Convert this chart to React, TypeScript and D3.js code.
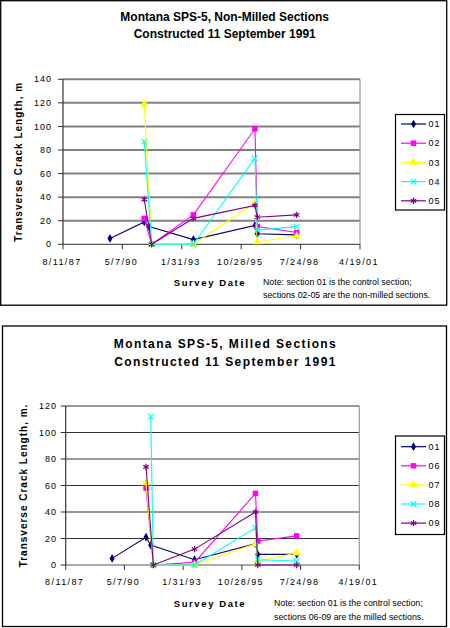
import React from "react";
import * as d3 from "d3";

// survey dates shared by every section (null = section not surveyed that day)
const surveyDates = [
  "1989-10-10", "1991-05-10", "1991-07-29", "1991-09-12",
  "1993-08-14", "1996-06-16", "1996-07-25", "1998-05-19",
];

// non-milled sections
const nonMilledIds = ["01", "02", "03", "04", "05"];
const nm01 = [5, 19, 15, null, 4, 16, 9, 8];
const nm02 = [null, 22, null, 0, 25, 98, 15, 10];
const nm03 = [null, 119, null, 0, 0, 35, 2, 7];
const nm04 = [null, 87, null, 0, 0, 73, 12, 15];
const nm05 = [null, 38, null, 0, 22, 33, 23, 25];

// milled sections
const milledIds = ["01", "06", "07", "08", "09"];
const m01 = [5, 21, 15, null, 4, 16, 8, 8];
const m06 = [null, 58, null, 0, 2, 54, 18, 22];
const m07 = [null, 62, null, 0, 0, 16, 3, 9];
const m08 = [null, null, 112, 0, 0, 28, 4, 3];
const m09 = [null, 74, null, 0, 12, 40, 0, 0];

const colors = ["#000080", "#ff00ff", "#ffff00", "#00ffff", "#800080"];
const symbols = [d3.symbolDiamond, d3.symbolSquare, d3.symbolTriangle, d3.symbolTimes, d3.symbolAsterisk];
const symbolSizes = [22, 30, 30, 22, 28];

const parse = d3.timeParse("%Y-%m-%d");
const axisStart = parse("1987-08-11")!;
const axisEnd = parse("2001-04-19")!;
const xTicks = d3.range(6).map((i) => d3.timeDay.offset(axisStart, i * 1000));
const fmtDate = (d: Date) => `${d.getMonth() + 1}/${d.getDate()}/${String(d.getFullYear()).slice(2)}`;

const font = "'Liberation Sans', Arial, sans-serif";

type Layout = {
  frame: [number, number, number, number];
  plot: { left: number; right: number; top: number; bottom: number };
  title: [number, number];
  titleSpacing: number;
  yLabelX: number;
  tickY: number;
  yTickX: number;
  legend: { x: number; y: number; h: number; first: number; step: number };
  xLabelY: number;
  noteX: number;
  noteY: [number, number];
  grid: { color: string; width: number };
};

function Chart(props: {
  titles: [string, string];
  yLabel: string;
  yMax: number;
  ids: string[];
  series: (number | null)[][];
  notes: [string, string];
  layout: Layout;
}) {
  const { titles, yLabel, yMax, ids, series, notes, layout: L } = props;
  const p = L.plot;
  const x = d3.scaleTime().domain([axisStart, axisEnd]).range([p.left, p.right]);
  const y = d3.scaleLinear().domain([0, yMax]).range([p.bottom, p.top]);
  const yTicks = d3.range(0, yMax + 1, 20);
  const dates = surveyDates.map((s) => parse(s)!);
  const line = d3.line<[Date, number]>().x((d) => x(d[0])).y((d) => y(d[1]));
  const [fx, fy, fw, fh] = L.frame;
  const cx = (fx + fx + fw) / 2 + 1;

  return (
    <g fontFamily={font}>
      <rect x={fx} y={fy} width={fw} height={fh} fill="#fff" stroke="#000" strokeWidth={1.3} />
      {titles.map((t, i) => (
        <text key={t} x={cx} y={L.title[i]} textAnchor="middle" fontSize={12} fontWeight="bold"
          letterSpacing={L.titleSpacing}>{t}</text>
      ))}

      {/* gridlines */}
      {yTicks.map((v) => (
        <line key={v} x1={p.left} x2={p.right} y1={y(v)} y2={y(v)}
          stroke={v === 0 ? "#555" : L.grid.color} strokeWidth={v === 0 ? 1.2 : L.grid.width} />
      ))}
      <line x1={p.right} x2={p.right} y1={p.top} y2={p.bottom} stroke="#999" strokeWidth={1.2} />
      <line x1={p.left} x2={p.left} y1={p.top} y2={p.bottom} stroke="#333" strokeWidth={1.2} />

      {/* y ticks */}
      {yTicks.map((v) => (
        <g key={v}>
          <line x1={p.left - 5} x2={p.left} y1={y(v)} y2={y(v)} stroke="#333" />
          <text x={L.yTickX} y={y(v)} dy="0.35em" textAnchor="end" fontSize={9} letterSpacing={1}>{v}</text>
        </g>
      ))}
      <text transform={`translate(${L.yLabelX},${(p.top + p.bottom) / 2}) rotate(-90)`} textAnchor="middle"
        dy="0.35em" fontSize={10} fontWeight="bold" letterSpacing={1}>{yLabel}</text>

      {/* x ticks */}
      {xTicks.map((d) => (
        <g key={+d}>
          <line x1={x(d)} x2={x(d)} y1={p.bottom} y2={p.bottom + 5} stroke="#333" />
          <text x={x(d) - 1} y={L.tickY} textAnchor="middle" fontSize={9} letterSpacing={1.4}>{fmtDate(d)}</text>
        </g>
      ))}
      <text x={210} y={L.xLabelY} textAnchor="middle" fontSize={9.5} fontWeight="bold" letterSpacing={1.6}>Survey Date</text>
      <text x={L.noteX} y={L.noteY[0]} fontSize={8.8}>{notes[0]}</text>
      <text x={L.noteX} y={L.noteY[1]} fontSize={8.8}>{notes[1]}</text>

      {/* series */}
      {series.map((vals, i) => {
        const pts = vals
          .map((v, j) => [dates[j], v] as [Date, number | null])
          .filter((d): d is [Date, number] => d[1] !== null);
        const sym = d3.symbol(symbols[i], symbolSizes[i])()!;
        const stroked = i >= 3;
        return (
          <g key={ids[i]}>
            <path d={line(pts)!} fill="none" stroke={colors[i]} strokeWidth={1.1} />
            {pts.map((d, k) => (
              <path key={k} d={sym} transform={`translate(${x(d[0])},${y(d[1])})`}
                fill={stroked ? "none" : colors[i]} stroke={colors[i]} strokeWidth={stroked ? 1.2 : 0} />
            ))}
          </g>
        );
      })}

      {/* legend */}
      <rect x={L.legend.x} y={L.legend.y} width={49} height={L.legend.h} fill="#fff" stroke="#000" strokeWidth={1.2} />
      {ids.map((id, i) => {
        const ly = L.legend.first + i * L.legend.step;
        const sym = d3.symbol(symbols[i], symbolSizes[i])()!;
        const stroked = i >= 3;
        return (
          <g key={id}>
            <line x1={L.legend.x + 5.5} x2={L.legend.x + 30.5} y1={ly} y2={ly} stroke={colors[i]} strokeWidth={1.2} />
            <path d={sym} transform={`translate(${L.legend.x + 18},${ly})`}
              fill={stroked ? "none" : colors[i]} stroke={colors[i]} strokeWidth={stroked ? 1.2 : 0} />
            <text x={L.legend.x + 33} y={ly} dy="0.35em" fontSize={9} letterSpacing={1}>{id}</text>
          </g>
        );
      })}
    </g>
  );
}

const topLayout: Layout = {
  frame: [0.7, 0.7, 446, 304.5],
  plot: { left: 63, right: 360, top: 79.3, bottom: 244.3 },
  title: [20.5, 37.5],
  titleSpacing: 0,
  yLabelX: 18,
  tickY: 265,
  yTickX: 52,
  legend: { x: 395.5, y: 114.5, h: 95.5, first: 124, step: 19.2 },
  xLabelY: 286,
  noteX: 263,
  noteY: [284.5, 298],
  grid: { color: "#808080", width: 2 },
};

const bottomLayout: Layout = {
  frame: [2.5, 326, 444, 300.5],
  plot: { left: 65.7, right: 359.3, top: 406, bottom: 565 },
  title: [348, 366],
  titleSpacing: 1.4,
  yLabelX: 23,
  tickY: 585,
  yTickX: 57,
  legend: { x: 395.5, y: 436, h: 98.5, first: 446.7, step: 19.1 },
  xLabelY: 606.5,
  noteX: 274,
  noteY: [606, 619.5],
  grid: { color: "#333", width: 1 },
};

export default function App() {
  return (
    <svg width={450} height={628} style={{ position: "absolute", left: 0, top: 0 }}>
      <rect width={450} height={628} fill="#fff" />
      <Chart
        titles={["Montana SPS-5, Non-Milled Sections", "Constructed 11 September 1991"]}
        yLabel="Transverse Crack Length, m"
        yMax={140}
        ids={nonMilledIds}
        series={[nm01, nm02, nm03, nm04, nm05]}
        notes={["Note: section 01 is the control section;", "sections 02-05 are the non-milled sections."]}
        layout={topLayout}
      />
      <Chart
        titles={["Montana SPS-5, Milled Sections", "Constructed 11 September 1991"]}
        yLabel="Transverse Crack Length, m."
        yMax={120}
        ids={milledIds}
        series={[m01, m06, m07, m08, m09]}
        notes={["Note: section 01 is the control section;", "sections 06-09 are the milled sections."]}
        layout={bottomLayout}
      />
    </svg>
  );
}
